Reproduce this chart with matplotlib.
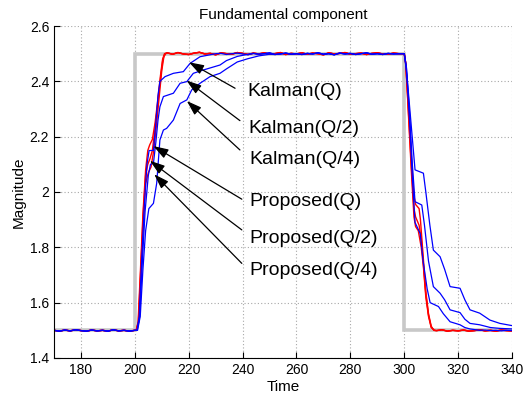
import numpy as np
import matplotlib.pyplot as plt

plt.rcParams['font.family'] = ['Liberation Sans', 'DejaVu Sans']

#---------reference step----------------
ref_t = [170, 200, 200, 300, 300, 340]
ref_v = [1.5, 1.5, 2.5, 2.5, 1.5, 1.5]

#---------shared flat parts (before step, top, after step)----------------
pre_t = [170, 172, 174, 176, 178, 180, 182, 184, 186, 188, 190, 192, 194, 196, 198, 200]
pre_v = [1.500, 1.497, 1.501, 1.498, 1.502, 1.499, 1.497, 1.501, 1.498, 1.500,
         1.497, 1.502, 1.498, 1.500, 1.497, 1.500]

top_t = [212, 214, 216, 218, 220, 222, 224, 226, 228, 230, 232, 234, 236, 238, 240,
         242, 244, 246, 248, 250, 252, 254, 256, 258, 260, 262, 264, 266, 268, 270,
         272, 274, 276, 278, 280, 282, 284, 286, 288, 290, 292, 294, 296, 298]
top_red = [2.503, 2.498, 2.504, 2.499, 2.497, 2.502, 2.505, 2.499, 2.501, 2.496,
           2.503, 2.500, 2.498, 2.504, 2.501, 2.497, 2.502, 2.499, 2.503, 2.498,
           2.500, 2.504, 2.497, 2.501, 2.499, 2.503, 2.498, 2.502, 2.500, 2.496,
           2.503, 2.499, 2.501, 2.504, 2.498, 2.500, 2.502, 2.497, 2.501, 2.503,
           2.499, 2.498, 2.502, 2.500]
top_blue = [2.500, 2.500, 2.500, 2.500, 2.500, 2.500, 2.500, 2.500, 2.500, 2.498,
            2.501, 2.497, 2.500, 2.502, 2.499, 2.496, 2.501, 2.498, 2.500, 2.503,
            2.497, 2.499, 2.502, 2.498, 2.500, 2.497, 2.501, 2.499, 2.503, 2.498,
            2.500, 2.496, 2.502, 2.499, 2.501, 2.497, 2.500, 2.503, 2.498, 2.500,
            2.497, 2.501, 2.499, 2.500]

post_t = [312, 314, 316, 318, 320, 322, 324, 326, 328, 330, 332, 334, 336, 338, 340]
post_red = [1.499, 1.502, 1.497, 1.500, 1.498, 1.501, 1.497, 1.499, 1.502, 1.498,
            1.500, 1.497, 1.501, 1.499, 1.498]
post_blue = [1.500, 1.500, 1.500, 1.500, 1.500, 1.500, 1.500, 1.500, 1.500, 1.501,
             1.499, 1.500, 1.498, 1.500, 1.499]

#---------transitions (rise / fall) for each estimator----------------
prop_q_rise = [(200.5, 1.50), (201.2, 1.53), (202.0, 1.70), (203.0, 1.92), (204.0, 2.08),
               (204.8, 2.15), (205.5, 2.17), (206.5, 2.19), (207.5, 2.25), (208.5, 2.33),
               (209.5, 2.42), (210.3, 2.48), (211.0, 2.50)]
prop_q_fall = [(300.0, 2.50), (300.5, 2.47), (301.5, 2.32), (302.5, 2.15), (303.5, 1.99),
               (304.2, 1.955), (305.5, 1.94), (306.0, 1.90), (307.0, 1.77), (308.0, 1.64),
               (309.0, 1.56), (310.0, 1.515), (311.0, 1.50)]
prop_q2_rise = [(200.5, 1.50), (201.3, 1.53), (202.1, 1.70), (203.1, 1.92), (204.0, 2.06),
                (204.8, 2.10), (205.6, 2.12), (206.5, 2.15), (207.5, 2.23), (208.5, 2.32),
                (209.5, 2.41), (210.4, 2.48), (211.2, 2.50)]
prop_q2_fall = [(300.0, 2.50), (300.6, 2.46), (301.6, 2.28), (302.6, 2.10), (303.6, 1.94),
                (304.2, 1.91), (305.5, 1.88), (306.3, 1.83), (307.0, 1.75), (308.0, 1.63),
                (309.0, 1.555), (310.0, 1.512), (311.0, 1.50)]
prop_q4_rise = [(200.5, 1.50), (201.4, 1.53), (202.2, 1.70), (203.2, 1.90), (204.0, 2.03),
                (205.0, 2.07), (206.0, 2.09), (207.0, 2.15), (208.0, 2.24), (209.0, 2.34),
                (210.0, 2.44), (210.8, 2.49), (211.5, 2.50)]
prop_q4_fall = [(300.0, 2.50), (300.6, 2.46), (301.6, 2.27), (302.6, 2.08), (303.6, 1.91),
                (304.2, 1.875), (305.2, 1.86), (306.3, 1.80), (307.1, 1.73), (308.0, 1.62),
                (309.0, 1.55), (310.0, 1.51), (311.3, 1.50)]

kal_q_rise = [(200.8, 1.50), (201.6, 1.55), (202.5, 1.75), (203.5, 1.95), (204.5, 2.10),
              (205.3, 2.15), (206.9, 2.15), (207.8, 2.25), (208.6, 2.35), (209.3, 2.40),
              (211.2, 2.417), (214.3, 2.429), (218.0, 2.435), (220.5, 2.465), (224.2, 2.489),
              (227.9, 2.496), (230.0, 2.500)]
kal_q_fall = [(300.0, 2.50), (300.8, 2.45), (302.0, 2.25), (303.0, 2.05), (304.0, 1.89),
              (305.9, 1.85), (307.0, 1.75), (308.5, 1.65), (309.6, 1.60), (312.7, 1.586),
              (314.5, 1.56), (317.0, 1.531), (320.7, 1.52), (322.5, 1.51), (324.4, 1.505),
              (328.0, 1.500)]
kal_q2_rise = [(200.9, 1.50), (201.8, 1.55), (202.8, 1.75), (203.8, 1.93), (205.0, 2.06),
               (205.8, 2.10), (206.9, 2.104), (207.8, 2.18), (208.6, 2.26), (209.3, 2.308),
               (210.6, 2.345), (214.3, 2.357), (216.8, 2.393), (219.3, 2.399), (221.7, 2.429),
               (225.4, 2.441), (231.6, 2.459), (234.0, 2.475), (238.0, 2.490), (242.0, 2.498)]
kal_q2_fall = [(300.0, 2.50), (300.8, 2.45), (302.0, 2.28), (303.0, 2.10), (304.0, 1.965),
               (306.5, 1.953), (307.5, 1.88), (309.0, 1.75), (310.8, 1.658), (313.3, 1.634),
               (315.0, 1.61), (317.0, 1.574), (320.7, 1.564), (322.5, 1.54), (324.4, 1.525),
               (328.0, 1.52), (332.0, 1.51), (335.5, 1.507), (340.0, 1.505)]
kal_q4_rise = [(201.0, 1.50), (202.0, 1.55), (203.0, 1.72), (204.0, 1.86), (205.2, 1.94),
               (206.9, 1.959), (208.1, 2.031), (209.3, 2.188), (210.6, 2.224), (211.8, 2.23),
               (214.3, 2.26), (216.8, 2.32), (219.3, 2.333), (221.1, 2.369), (224.2, 2.393),
               (227.9, 2.417), (231.6, 2.429), (234.0, 2.445), (238.0, 2.47), (242.0, 2.482),
               (246.0, 2.492), (250.0, 2.498)]
kal_q4_fall = [(300.0, 2.50), (301.0, 2.42), (302.5, 2.25), (304.0, 2.08), (307.1, 2.068),
               (308.0, 2.00), (309.5, 1.88), (310.8, 1.79), (313.3, 1.766), (315.0, 1.72),
               (317.0, 1.658), (320.7, 1.652), (322.5, 1.61), (324.4, 1.574), (328.0, 1.562),
               (331.8, 1.537), (335.5, 1.525), (340.0, 1.517)]

#---------labels and arrows (tip, tail, text position)----------------
labels = ['Kalman(Q)', 'Kalman(Q/2)', 'Kalman(Q/4)',
          'Proposed(Q)', 'Proposed(Q/2)', 'Proposed(Q/4)']
arrow_tip = [(220.1, 2.469), (219.2, 2.403), (219.3, 2.329),
             (206.9, 2.166), (205.6, 2.113), (207.2, 2.064)]
arrow_tail = [(237.2, 2.375), (239.0, 2.258), (239.0, 2.152),
              (239.7, 1.974), (239.7, 1.863), (239.7, 1.742)]
text_pos = [(241.8, 2.363), (242.0, 2.231), (242.4, 2.116),
            (242.4, 1.965), (242.4, 1.833), (242.6, 1.716)]


def build(rise, fall, top_v, post_v):
    t = list(pre_t)
    v = list(pre_v)
    t += [p[0] for p in rise]
    v += [p[1] for p in rise]
    for tt, vv in zip(top_t, top_v):
        if tt > rise[-1][0]:
            t.append(tt)
            v.append(vv)
    t += [p[0] for p in fall]
    v += [p[1] for p in fall]
    if post_v is not None:
        for tt, vv in zip(post_t, post_v):
            if tt > fall[-1][0]:
                t.append(tt)
                v.append(vv)
    return t, v


fig = plt.figure(figsize=(5.25, 3.99), dpi=100)
ax = fig.add_axes([0.1029, 0.1028, 0.8724, 0.832])

ax.plot(ref_t, ref_v, color='#c8c8c8', lw=2.6, solid_joinstyle='miter')

for rise, fall in [(prop_q_rise, prop_q_fall), (prop_q2_rise, prop_q2_fall), (prop_q4_rise, prop_q4_fall)]:
    t, v = build(rise, fall, top_red, post_red)
    ax.plot(t, v, color='#ff0000', lw=1.0)

for rise, fall in [(kal_q_rise, kal_q_fall), (kal_q2_rise, kal_q2_fall), (kal_q4_rise, kal_q4_fall)]:
    t, v = build(rise, fall, top_blue, post_blue)
    ax.plot(t, v, color='#0000ff', lw=0.9)

for lab, tip, tail, pos in zip(labels, arrow_tip, arrow_tail, text_pos):
    ax.annotate('', xy=tip, xytext=tail,
                arrowprops=dict(arrowstyle='-|>,head_length=0.9,head_width=0.3',
                                color='black', lw=0.9, shrinkA=0, shrinkB=0))
    ax.text(pos[0], pos[1], lab, fontsize=14, ha='left', va='center')

ax.set_xlim(170, 340)
ax.set_ylim(1.4, 2.6)
ax.set_xticks(np.arange(180, 341, 20))
ax.set_yticks([1.4, 1.6, 1.8, 2.0, 2.2, 2.4, 2.6])
ax.set_yticklabels(['1.4', '1.6', '1.8', '2', '2.2', '2.4', '2.6'])
ax.grid(True, color='#a8a8a8', linestyle=(0, (1, 2)), lw=0.8)
ax.spines['top'].set_visible(False)
ax.spines['right'].set_visible(False)
ax.tick_params(direction='in', length=4, labelsize=10, top=False, right=False)
ax.set_xlabel('Time', fontsize=11, labelpad=2)
ax.set_ylabel('Magnitude', fontsize=11, labelpad=3)
ax.set_title('Fundamental component', fontsize=11, pad=5)

fig.savefig('out.png', dpi=100)
